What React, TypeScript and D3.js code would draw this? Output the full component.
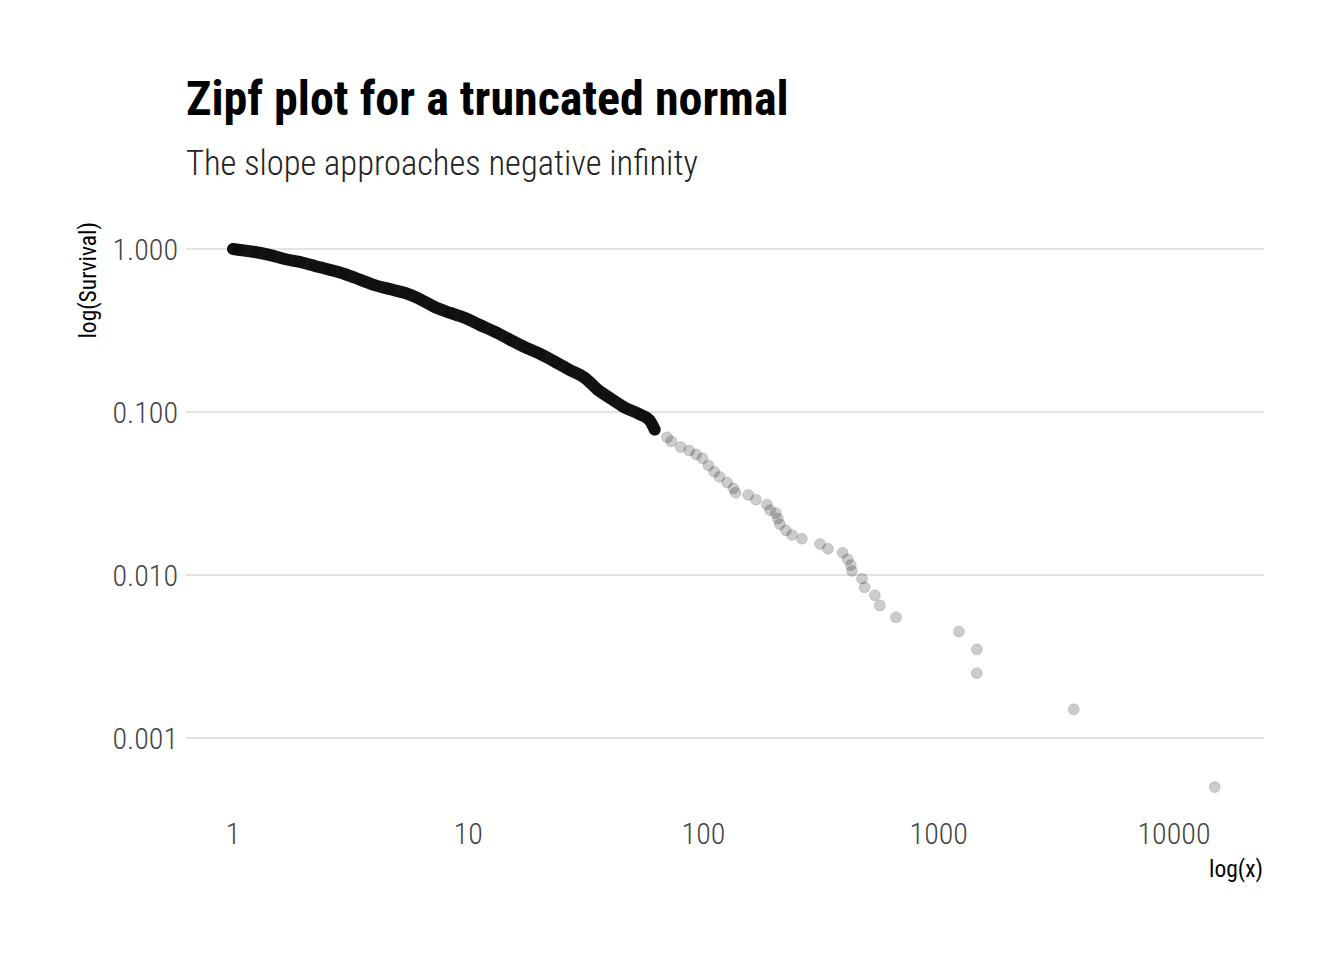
import { useEffect } from 'react';
import * as d3 from 'd3';

// dense part of the curve (x, survival), read along the thick band
const denseX = [1, 1.07, 1.24, 1.44, 1.66, 1.93, 2.23, 2.6, 3.0, 3.5, 4.0, 4.6, 5.4, 6.2, 7.2, 8.4, 9.7, 11.2, 13, 15.1, 17.4, 20.2, 23.4, 27, 31.3, 35.5, 40, 46, 53.5, 59, 62];
const denseY = [1, 0.986, 0.958, 0.918, 0.868, 0.832, 0.787, 0.743, 0.70, 0.645, 0.60, 0.569, 0.537, 0.494, 0.441, 0.405, 0.377, 0.342, 0.31, 0.277, 0.25, 0.227, 0.203, 0.181, 0.162, 0.137, 0.122, 0.107, 0.097, 0.089, 0.078];

// sparse tail points
const tailX = [70, 73, 80, 87, 93, 99, 105, 111, 117, 126, 134, 137, 155, 167, 186, 192, 203, 207, 211, 224, 238, 262, 313, 338, 390, 410, 423, 427, 472, 484, 535, 562, 658, 1218, 1452, 1452, 3750, 14900];
const tailY = [0.070, 0.066, 0.061, 0.058, 0.055, 0.052, 0.047, 0.043, 0.040, 0.037, 0.034, 0.032, 0.031, 0.029, 0.027, 0.025, 0.024, 0.0222, 0.0205, 0.0188, 0.0176, 0.0167, 0.0155, 0.0145, 0.0137, 0.0125, 0.0115, 0.0106, 0.0095, 0.0084, 0.0075, 0.0065, 0.0055, 0.0045, 0.0035, 0.0025, 0.0015, 0.0005];

const xTicks = [1, 10, 100, 1000, 10000];
const yTicks = [1, 0.1, 0.01, 0.001];

const font = '"Roboto Condensed", "Liberation Sans Narrow", Roboto, sans-serif';

export default function App() {
  useEffect(() => {
    document.body.style.margin = '0';
  }, []);

  const x = d3.scaleLog().domain([1, 10000]).range([233, 1174]);
  const y = d3.scaleLog().domain([1, 0.001]).range([249, 738]);

  const dense = denseX.map((v, i) => [v, denseY[i]] as [number, number]);
  const tail = tailX.map((v, i) => [v, tailY[i]] as [number, number]);
  const line = d3.line<[number, number]>().x(d => x(d[0])).y(d => y(d[1])).curve(d3.curveMonotoneX);

  return (
    <svg width={1344} height={960} style={{ display: 'block', fontFamily: font }}>
      <rect width={1344} height={960} fill="#fff" />
      <text x={186} y={115} fontSize={48} fontWeight={700} fill="#000">Zipf plot for a truncated normal</text>
      <text x={186} y={175} fontSize={34.5} fontWeight={300} fill="#222">The slope approaches negative infinity</text>

      {yTicks.map(t => (
        <g key={t}>
          <line x1={186} x2={1264} y1={y(t)} y2={y(t)} stroke="#c8c8c8" strokeWidth={1} />
          <text x={178} y={y(t)} dy="0.35em" textAnchor="end" fontSize={30} fontWeight={300} fill="#444">{d3.format('.3f')(t)}</text>
        </g>
      ))}
      {xTicks.map(t => (
        <text key={t} x={x(t)} y={844} textAnchor="middle" fontSize={30} fontWeight={300} fill="#444">{t}</text>
      ))}
      <text x={1263} y={877} textAnchor="end" fontSize={23.5} fill="#000">log(x)</text>
      <text transform="translate(96,222) rotate(-90)" textAnchor="end" fontSize={23.5} fill="#000">log(Survival)</text>

      <path d={line(dense) ?? ''} fill="none" stroke="#000" strokeWidth={12} strokeLinecap="round" opacity={0.92} />
      {dense.concat(tail).map((d, i) => (
        <circle key={i} cx={x(d[0])} cy={y(d[1])} r={5.5} fill="#000" fillOpacity={0.2} stroke="#000" strokeOpacity={0.12} />
      ))}
    </svg>
  );
}
